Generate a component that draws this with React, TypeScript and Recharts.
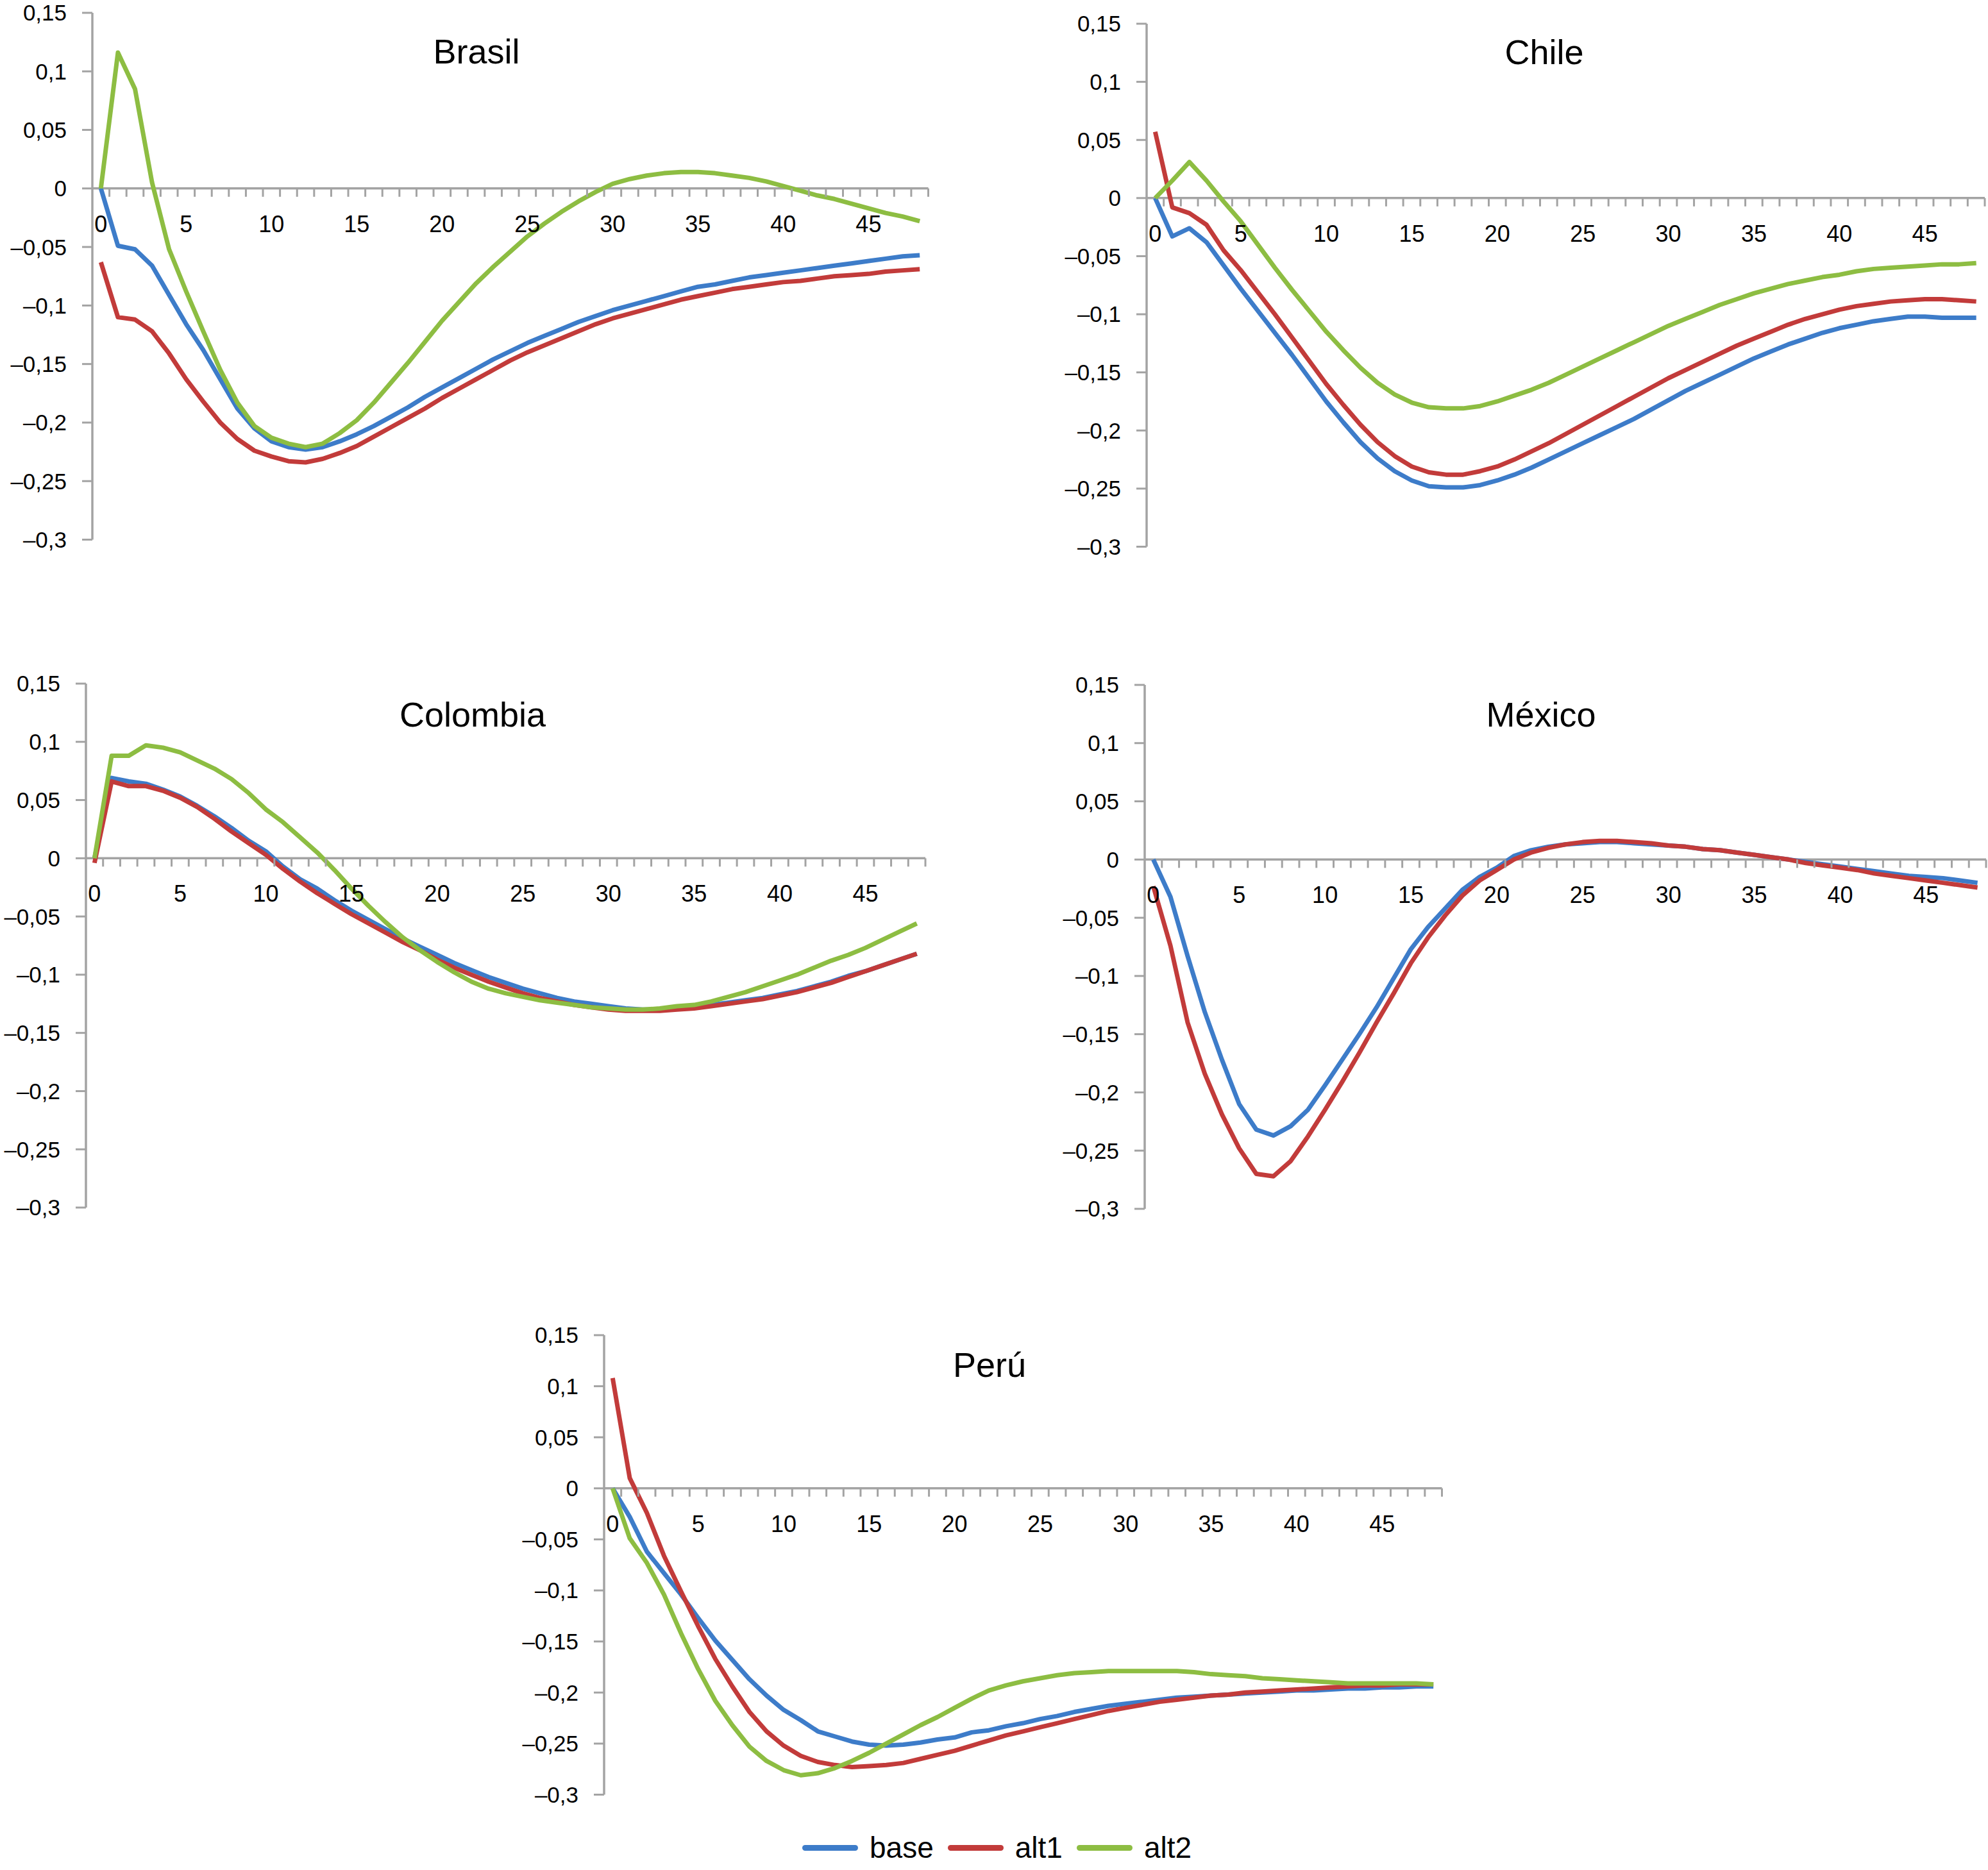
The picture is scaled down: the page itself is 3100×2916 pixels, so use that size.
import React from 'react';
import { LineChart, Line, XAxis, YAxis, ReferenceLine, Legend } from 'recharts';

const FONT = '"Liberation Sans", Arial, Helvetica, sans-serif';
const AXIS_COLOR = '#a3a3a3';
const COLORS: Record<string, string> = { base: '#3d7cc9', alt1: '#c23b3a', alt2: '#8dbd42' };
const seriesOrder = ['base', 'alt1', 'alt2'];

const periods = [
  0, 1, 2, 3, 4, 5, 6, 7, 8, 9, 10, 11, 12, 13, 14, 15, 16, 17, 18, 19, 20, 21, 22, 23, 24,
  25, 26, 27, 28, 29, 30, 31, 32, 33, 34, 35, 36, 37, 38, 39, 40, 41, 42, 43, 44, 45, 46, 47, 48,
];
const xLabelTicks = [0, 5, 10, 15, 20, 25, 30, 35, 40, 45];
const yTicks = [0.15, 0.1, 0.05, 0, -0.05, -0.1, -0.15, -0.2, -0.25, -0.3];
const Y_MIN = -0.3;
const Y_MAX = 0.15;

const brasilBase = [
  0, -0.049, -0.052, -0.066, -0.091, -0.116, -0.138, -0.163, -0.188, -0.205, -0.216, -0.221, -0.223,
  -0.221, -0.216, -0.21, -0.203, -0.195, -0.187, -0.178, -0.17, -0.162, -0.154, -0.146, -0.139,
  -0.132, -0.126, -0.12, -0.114, -0.109, -0.104, -0.1, -0.096, -0.092, -0.088, -0.084, -0.082,
  -0.079, -0.076, -0.074, -0.072, -0.07, -0.068, -0.066, -0.064, -0.062, -0.06, -0.058, -0.057,
];
const brasilAlt1 = [
  -0.063, -0.11, -0.112, -0.122, -0.141, -0.163, -0.182, -0.2, -0.214, -0.224, -0.229, -0.233,
  -0.234, -0.231, -0.226, -0.22, -0.212, -0.204, -0.196, -0.188, -0.179, -0.171, -0.163, -0.155,
  -0.147, -0.14, -0.134, -0.128, -0.122, -0.116, -0.111, -0.107, -0.103, -0.099, -0.095, -0.092,
  -0.089, -0.086, -0.084, -0.082, -0.08, -0.079, -0.077, -0.075, -0.074, -0.073, -0.071, -0.07, -0.069,
];
const brasilAlt2 = [
  0, 0.116, 0.085, 0.005, -0.052, -0.088, -0.122, -0.155, -0.183, -0.203, -0.213, -0.218, -0.221,
  -0.218, -0.209, -0.198, -0.183, -0.166, -0.149, -0.131, -0.113, -0.097, -0.081, -0.067, -0.054,
  -0.041, -0.03, -0.02, -0.011, -0.003, 0.004, 0.008, 0.011, 0.013, 0.014, 0.014, 0.013, 0.011,
  0.009, 0.006, 0.002, -0.002, -0.006, -0.009, -0.013, -0.017, -0.021, -0.024, -0.028,
];

const chileBase = [
  0, -0.033, -0.026, -0.038, -0.058, -0.078, -0.097, -0.116, -0.135, -0.155, -0.175, -0.193, -0.21,
  -0.224, -0.235, -0.243, -0.248, -0.249, -0.249, -0.247, -0.243, -0.238, -0.232, -0.225, -0.218,
  -0.211, -0.204, -0.197, -0.19, -0.182, -0.174, -0.166, -0.159, -0.152, -0.145, -0.138, -0.132,
  -0.126, -0.121, -0.116, -0.112, -0.109, -0.106, -0.104, -0.102, -0.102, -0.103, -0.103, -0.103,
];
const chileAlt1 = [
  0.057, -0.008, -0.013, -0.023, -0.045, -0.062, -0.081, -0.1, -0.12, -0.14, -0.16, -0.178, -0.195,
  -0.21, -0.222, -0.231, -0.236, -0.238, -0.238, -0.235, -0.231, -0.225, -0.218, -0.211, -0.203,
  -0.195, -0.187, -0.179, -0.171, -0.163, -0.155, -0.148, -0.141, -0.134, -0.127, -0.121, -0.115,
  -0.109, -0.104, -0.1, -0.096, -0.093, -0.091, -0.089, -0.088, -0.087, -0.087, -0.088, -0.089,
];
const chileAlt2 = [
  0, 0.015, 0.031, 0.015, -0.003, -0.02, -0.04, -0.06, -0.079, -0.097, -0.115, -0.131, -0.146,
  -0.159, -0.169, -0.176, -0.18, -0.181, -0.181, -0.179, -0.175, -0.17, -0.165, -0.159, -0.152,
  -0.145, -0.138, -0.131, -0.124, -0.117, -0.11, -0.104, -0.098, -0.092, -0.087, -0.082, -0.078,
  -0.074, -0.071, -0.068, -0.066, -0.063, -0.061, -0.06, -0.059, -0.058, -0.057, -0.057, -0.056,
];

const colombiaBase = [
  0, 0.069, 0.066, 0.064, 0.059, 0.053, 0.045, 0.036, 0.026, 0.015, 0.006, -0.007, -0.018, -0.026,
  -0.036, -0.045, -0.053, -0.061, -0.069, -0.076, -0.083, -0.09, -0.096, -0.102, -0.107, -0.112,
  -0.116, -0.12, -0.123, -0.125, -0.127, -0.129, -0.13, -0.13, -0.129, -0.128, -0.126, -0.124,
  -0.122, -0.12, -0.117, -0.114, -0.11, -0.106, -0.101, -0.097, -0.092, -0.087, -0.082,
];
const colombiaAlt1 = [
  -0.004, 0.066, 0.062, 0.062, 0.058, 0.052, 0.044, 0.034, 0.023, 0.013, 0.003, -0.009, -0.02,
  -0.03, -0.039, -0.048, -0.056, -0.064, -0.072, -0.079, -0.087, -0.094, -0.1, -0.106, -0.111,
  -0.116, -0.12, -0.123, -0.126, -0.128, -0.13, -0.131, -0.131, -0.131, -0.13, -0.129, -0.127,
  -0.125, -0.123, -0.121, -0.118, -0.115, -0.111, -0.107, -0.102, -0.097, -0.092, -0.087, -0.082,
];
const colombiaAlt2 = [
  0, 0.088, 0.088, 0.097, 0.095, 0.091, 0.084, 0.077, 0.068, 0.056, 0.042, 0.031, 0.018, 0.005,
  -0.01, -0.026, -0.041, -0.055, -0.068, -0.079, -0.089, -0.098, -0.106, -0.112, -0.116, -0.119,
  -0.122, -0.124, -0.126, -0.128, -0.129, -0.13, -0.13, -0.129, -0.127, -0.126, -0.123, -0.119,
  -0.115, -0.11, -0.105, -0.1, -0.094, -0.088, -0.083, -0.077, -0.07, -0.063, -0.056,
];

const mexicoBase = [
  0, -0.032, -0.083, -0.131, -0.172, -0.21, -0.232, -0.237, -0.229, -0.215, -0.194, -0.172, -0.15,
  -0.127, -0.102, -0.077, -0.058, -0.042, -0.026, -0.015, -0.007, 0.003, 0.008, 0.011, 0.013, 0.014,
  0.015, 0.015, 0.014, 0.013, 0.012, 0.011, 0.009, 0.008, 0.006, 0.004, 0.002, 0.0, -0.002, -0.004,
  -0.006, -0.008, -0.01, -0.012, -0.014, -0.015, -0.016, -0.018, -0.02,
];
const mexicoAlt1 = [
  -0.023, -0.074, -0.14, -0.184, -0.219, -0.248, -0.27, -0.272, -0.259, -0.238, -0.215, -0.191,
  -0.166, -0.14, -0.115, -0.089, -0.067, -0.048, -0.031, -0.018, -0.009, 0.0, 0.006, 0.01, 0.013,
  0.015, 0.016, 0.016, 0.015, 0.014, 0.012, 0.011, 0.009, 0.008, 0.006, 0.004, 0.002, 0.0, -0.003,
  -0.005, -0.007, -0.009, -0.012, -0.014, -0.016, -0.018, -0.02, -0.022, -0.024,
];

const peruBase = [
  0, -0.028, -0.062, -0.083, -0.104, -0.127, -0.149, -0.168, -0.187, -0.203, -0.217, -0.227, -0.238,
  -0.243, -0.248, -0.251, -0.252, -0.251, -0.249, -0.246, -0.244, -0.239, -0.237, -0.233, -0.23,
  -0.226, -0.223, -0.219, -0.216, -0.213, -0.211, -0.209, -0.207, -0.205, -0.204, -0.203, -0.202,
  -0.201, -0.2, -0.199, -0.198, -0.198, -0.197, -0.196, -0.196, -0.195, -0.195, -0.194, -0.194,
];
const peruAlt1 = [
  0.108, 0.01, -0.024, -0.066, -0.101, -0.135, -0.167, -0.194, -0.219, -0.238, -0.252, -0.262,
  -0.268, -0.271, -0.273, -0.272, -0.271, -0.269, -0.265, -0.261, -0.257, -0.252, -0.247, -0.242,
  -0.238, -0.234, -0.23, -0.226, -0.222, -0.218, -0.215, -0.212, -0.209, -0.207, -0.205, -0.203,
  -0.202, -0.2, -0.199, -0.198, -0.197, -0.196, -0.195, -0.194, -0.193, -0.193, -0.192, -0.192, -0.192,
];
const peruAlt2 = [
  0, -0.049, -0.073, -0.104, -0.142, -0.177, -0.208, -0.232, -0.253, -0.267, -0.276, -0.281, -0.279,
  -0.274, -0.267, -0.259, -0.25, -0.241, -0.232, -0.224, -0.215, -0.206, -0.198, -0.193, -0.189,
  -0.186, -0.183, -0.181, -0.18, -0.179, -0.179, -0.179, -0.179, -0.179, -0.18, -0.182, -0.183,
  -0.184, -0.186, -0.187, -0.188, -0.189, -0.19, -0.191, -0.191, -0.191, -0.191, -0.191, -0.192,
];

type Series = { name: string; values: number[] };
type Panel = {
  title: string;
  series: Series[];
  axisX: number;
  right: number;
  top: number;
  bottom: number;
  titleX: number;
  titleY: number;
  legend?: boolean;
};

const panels: Panel[] = [
  {
    title: 'Brasil',
    series: [
      { name: 'base', values: brasilBase },
      { name: 'alt1', values: brasilAlt1 },
      { name: 'alt2', values: brasilAlt2 },
    ],
    axisX: 143.5, right: 1447, top: 19.5, bottom: 841, titleX: 743, titleY: 99,
  },
  {
    title: 'Chile',
    series: [
      { name: 'base', values: chileBase },
      { name: 'alt1', values: chileAlt1 },
      { name: 'alt2', values: chileAlt2 },
    ],
    axisX: 1788, right: 3095, top: 36.5, bottom: 852, titleX: 2408, titleY: 100,
  },
  {
    title: 'Colombia',
    series: [
      { name: 'base', values: colombiaBase },
      { name: 'alt1', values: colombiaAlt1 },
      { name: 'alt2', values: colombiaAlt2 },
    ],
    axisX: 134, right: 1443, top: 1066, bottom: 1883, titleX: 737, titleY: 1133,
  },
  {
    title: 'México',
    series: [
      { name: 'base', values: mexicoBase },
      { name: 'alt1', values: mexicoAlt1 },
    ],
    axisX: 1785, right: 3097, top: 1068, bottom: 1885, titleX: 2403, titleY: 1133,
  },
  {
    title: 'Perú',
    series: [
      { name: 'base', values: peruBase },
      { name: 'alt1', values: peruAlt1 },
      { name: 'alt2', values: peruAlt2 },
    ],
    axisX: 941.5, right: 2248, top: 2082, bottom: 2798.5, titleX: 1543, titleY: 2147,
    legend: true,
  },
];

const Y_W = 150;
const M_TOP = 30;
const M_BOTTOM = 30;
const M_RIGHT = 20;
const X_H = 1;

const xTicks = [...xLabelTicks, ...periods.map((p) => p + 0.5)].sort((a, b) => a - b);

const fmtY = (v: number) => {
  const r = Math.round(v * 100) / 100;
  if (r === 0) return '0';
  return String(r).replace('.', ',').replace('-', '\u2013');
};

const renderLegend = (props: any) => {
  const items = [...(props.payload || [])].sort(
    (a: any, b: any) => seriesOrder.indexOf(a.value) - seriesOrder.indexOf(b.value)
  );
  return (
    <div style={{ display: 'flex', alignItems: 'center', fontFamily: FONT, fontSize: 46, color: '#000', lineHeight: '54px' }}>
      {items.map((it: any, i: number) => (
        <div key={i} style={{ display: 'flex', alignItems: 'center', marginRight: 22 }}>
          <div style={{ width: 87, height: 9, borderRadius: 4.5, background: it.color, marginRight: 18 }} />
          <span>{it.value}</span>
        </div>
      ))}
    </div>
  );
};

function PanelChart({ p }: { p: Panel }) {
  const data = periods.map((t, i) => {
    const row: Record<string, number> = { t };
    p.series.forEach((s) => {
      row[s.name] = s.values[i];
    });
    return row;
  });
  const plotW = p.right - p.axisX;
  const plotH = p.bottom - p.top;
  const width = Y_W + plotW + M_RIGHT;
  const height = M_TOP + plotH + X_H + M_BOTTOM;
  const zeroY = M_TOP + (plotH * (Y_MAX - 0)) / (Y_MAX - Y_MIN);
  const chartLeft = p.axisX - Y_W;
  const chartTop = p.top - M_TOP;

  const xTick = (props: any) => {
    const { x, payload } = props;
    const v = payload.value;
    if (Number.isInteger(v)) {
      return (
        <text x={x} y={zeroY + 68} textAnchor="middle" fontSize={36} fontFamily={FONT} fill="#000">
          {v}
        </text>
      );
    }
    return <line x1={x} x2={x} y1={zeroY} y2={zeroY + 13} stroke={AXIS_COLOR} strokeWidth={3} />;
  };

  return (
    <div style={{ position: 'absolute', left: chartLeft, top: chartTop }}>
      <LineChart
        width={width}
        height={height}
        data={data}
        margin={{ top: M_TOP, right: M_RIGHT, bottom: M_BOTTOM, left: 0 }}
      >
        <XAxis
          type="number"
          dataKey="t"
          domain={[-0.5, 48.5]}
          ticks={xTicks}
          interval={0}
          axisLine={false}
          tickLine={false}
          height={X_H}
          tick={xTick}
        />
        <YAxis
          type="number"
          domain={[Y_MIN, Y_MAX]}
          ticks={yTicks}
          interval={0}
          width={Y_W}
          tickFormatter={fmtY}
          tickSize={16}
          tickMargin={24}
          axisLine={{ stroke: AXIS_COLOR, strokeWidth: 3.5 }}
          tickLine={{ stroke: AXIS_COLOR, strokeWidth: 3 }}
          tick={{ fontSize: 35, fill: '#000', fontFamily: FONT }}
        />
        <ReferenceLine y={0} stroke={AXIS_COLOR} strokeWidth={3.5} />
        {p.series.map((s) => (
          <Line
            key={s.name}
            type="linear"
            dataKey={s.name}
            name={s.name}
            stroke={COLORS[s.name]}
            strokeWidth={7}
            dot={false}
            activeDot={false}
            strokeLinejoin="round"
            isAnimationActive={false}
          />
        ))}
        {p.legend ? (
          <Legend
            layout="horizontal"
            verticalAlign="middle"
            align="center"
            content={renderLegend}
            wrapperStyle={{ left: 1251 - chartLeft, top: 2881 - chartTop - 27, width: 700, height: 54 }}
          />
        ) : null}
      </LineChart>
    </div>
  );
}

export default function App() {
  return (
    <div style={{ position: 'absolute', left: 0, top: 0, width: 3100, height: 2916, background: '#fff', overflow: 'hidden' }}>
      {panels.map((p) => (
        <PanelChart key={p.title} p={p} />
      ))}
      <svg width={3100} height={2916} style={{ position: 'absolute', left: 0, top: 0, pointerEvents: 'none' }}>
        {panels.map((p) => (
          <text key={p.title} x={p.titleX} y={p.titleY} textAnchor="middle" fontSize={54} fontFamily={FONT} fill="#000">
            {p.title}
          </text>
        ))}
      </svg>
    </div>
  );
}
